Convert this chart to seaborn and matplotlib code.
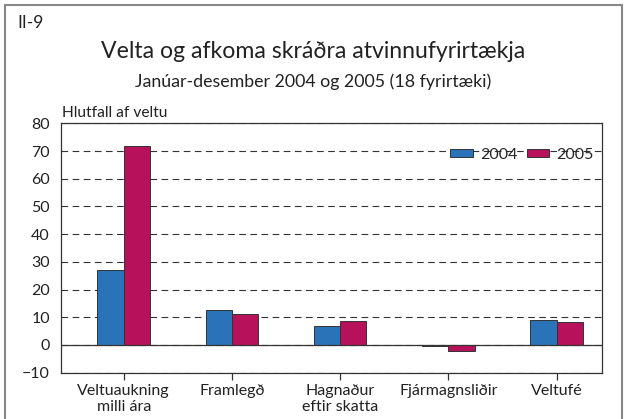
import matplotlib
matplotlib.use("Agg")
import matplotlib.pyplot as plt
import seaborn as sns
import pandas as pd
from matplotlib.patches import Rectangle

categories = ["Veltuaukning\nmilli ára", "Framlegð", "Hagnaður\neftir skatta",
              "Fjármagnsliðir", "Veltufé"]
years = ["2004", "2005"]
vals_2004 = [27.2, 12.6, 6.9, -0.3, 9.1]
vals_2005 = [72.0, 11.3, 8.6, -2.0, 8.3]
yticks = [-10, 0, 10, 20, 30, 40, 50, 60, 70, 80]
colors = ["#2b73b9", "#b8115b"]

rows = []
for c, a, b in zip(categories, vals_2004, vals_2005):
    rows.append({"flokkur": c, "ar": years[0], "gildi": a})
    rows.append({"flokkur": c, "ar": years[1], "gildi": b})
df = pd.DataFrame(rows)

sns.set_style("white")
plt.rcParams["font.family"] = ["Lato", "DejaVu Sans"]

fig = plt.figure(figsize=(6.27, 4.19), dpi=100)
ax = fig.add_axes([0.0973, 0.1105, 0.8628, 0.595])

sns.barplot(data=df, x="flokkur", y="gildi", hue="ar", palette=colors,
            width=0.486, edgecolor="#333333", linewidth=0.7, ax=ax,
            saturation=1, errorbar=None)

ax.set_ylim(-10, 80)
ax.set_yticks(yticks)
ax.set_xlim(-0.58, len(categories) - 0.58)
ax.set_axisbelow(True)
ax.grid(axis="y", color="#333333", linestyle=(0, (6, 4)), linewidth=0.8)
ax.grid(axis="x", visible=False)
ax.axhline(0, color="#333333", linewidth=0.9)

for s in ax.spines.values():
    s.set_color("#333333")
    s.set_linewidth(0.9)

ax.set_xlabel("")
ax.set_ylabel("")
ax.tick_params(axis="y", length=0, pad=8, labelsize=11.5, colors="#222222")
ax.tick_params(axis="x", length=5, width=0.9, color="#333333", pad=3,
               labelsize=11.5, labelcolor="#222222", bottom=True)

leg = ax.legend(loc="upper right", bbox_to_anchor=(1.0, 0.935), ncol=2, frameon=False,
                fontsize=11.5, handlelength=1.4, handleheight=0.35,
                handletextpad=0.45, columnspacing=0.6, borderaxespad=0.1)

fig.text(0.028, 0.945, "II-9", fontsize=12.5, color="#222222", va="center")
fig.text(0.50, 0.877, "Velta og afkoma skráðra atvinnufyrirtækja",
         fontsize=16.6, ha="center", va="center", color="#222222")
fig.text(0.50, 0.804, "Janúar-desember 2004 og 2005 (18 fyrirtæki)",
         fontsize=12.8, ha="center", va="center", color="#222222")
fig.text(0.099, 0.731, "Hlutfall af veltu", fontsize=11.2, ha="left",
         va="center", color="#222222")

fig.patches.append(Rectangle((0.008, -0.05), 0.984, 1.038, transform=fig.transFigure,
                             fill=False, edgecolor="#888888", linewidth=1.5))

fig.savefig("out.png", dpi=100)
